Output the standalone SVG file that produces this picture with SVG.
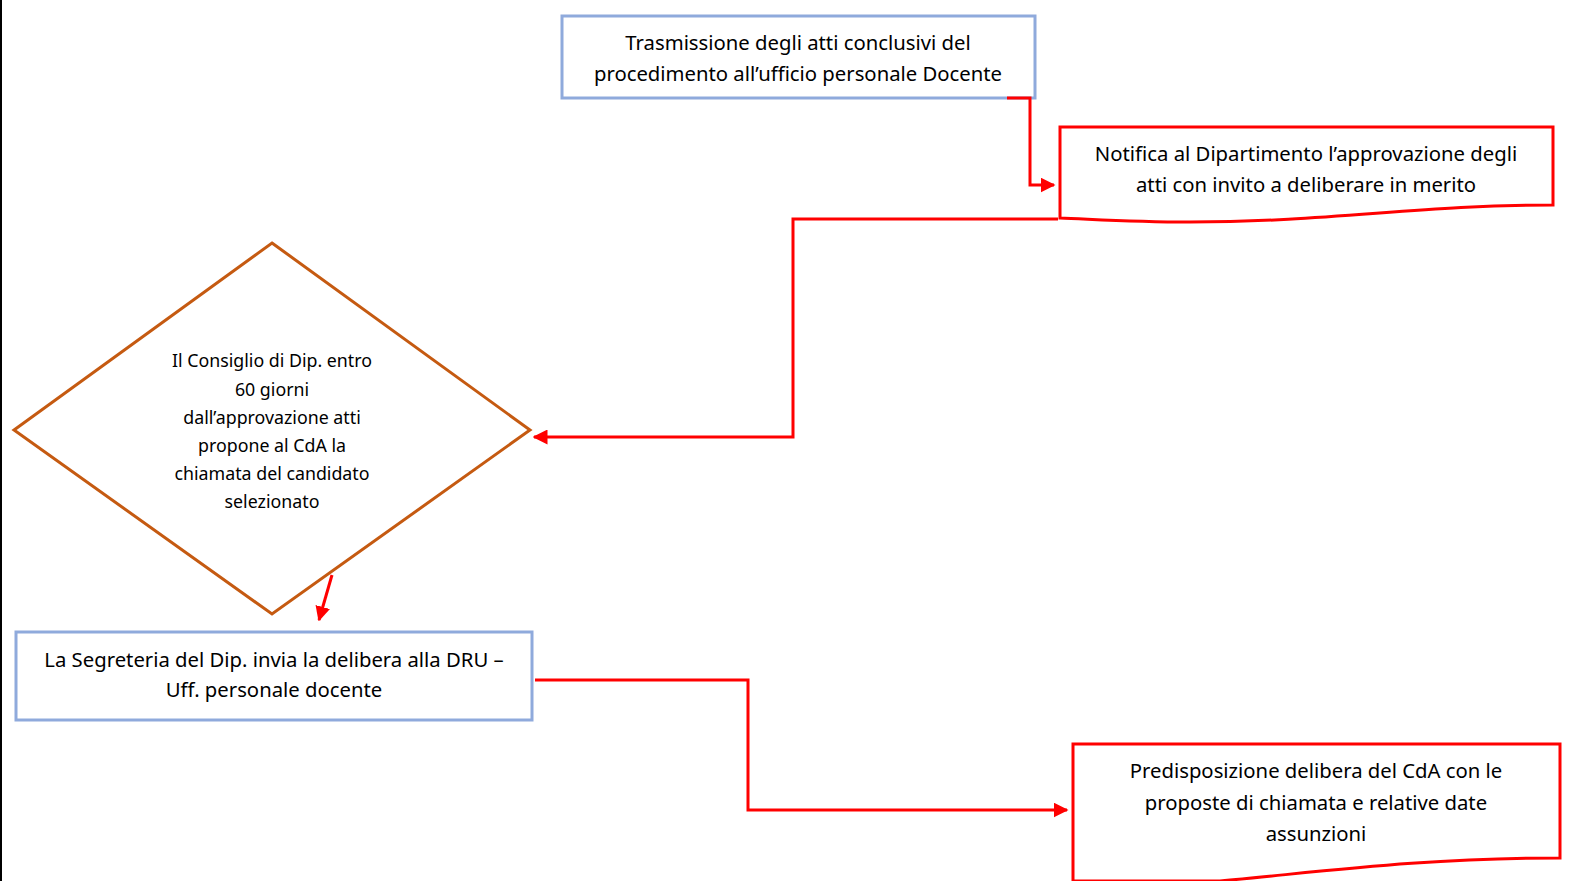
<svg xmlns="http://www.w3.org/2000/svg" width="1573" height="881" viewBox="0 0 1573 881">
<style>
.t{font-family:"Noto Sans","Liberation Sans",sans-serif;font-size:20.3px;fill:#000;text-anchor:middle}
.s{font-family:"Noto Sans","Liberation Sans",sans-serif;font-size:17.8px;fill:#000;text-anchor:middle}
.blue{fill:#fff;stroke:#8FAADC;stroke-width:3}
.red{fill:#fff;stroke:#FF0000;stroke-width:3}
.c{fill:none;stroke:#FF0000;stroke-width:3}
</style>
<defs>
<marker id="ah" markerWidth="5" markerHeight="5" refX="4.5" refY="2.5" orient="auto" markerUnits="strokeWidth">
<path d="M0,0 L5,2.5 L0,5 z" fill="#FF0000"/>
</marker>
</defs>
<rect width="1573" height="881" fill="#fff"/>
<line x1="1" y1="0" x2="1" y2="881" stroke="#000" stroke-width="2"/>
<g id="n1">
<rect class="blue" x="562" y="16" width="473" height="82"/>
<text class="t" x="798" y="50">Trasmissione degli atti conclusivi del</text>
<text class="t" x="798" y="81">procedimento all’ufficio personale Docente</text>
</g>
<g id="n2">
<path class="red" d="M1060,127 L1553,127 L1553,205 C1420,205 1330,222 1190,222 C1130,222 1090,219 1060,218 Z"/>
<text class="t" x="1306" y="161">Notifica al Dipartimento l’approvazione degli</text>
<text class="t" x="1306" y="192">atti con invito a deliberare in merito</text>
</g>
<g id="n3">
<polygon points="272,243 530,430 272,614 14,430" fill="#fff" stroke="#C55A11" stroke-width="3"/>
<text class="s" x="272" y="367">Il Consiglio di Dip. entro</text>
<text class="s" x="272" y="396">60 giorni</text>
<text class="s" x="272" y="424">dall’approvazione atti</text>
<text class="s" x="272" y="452">propone al CdA la</text>
<text class="s" x="272" y="480">chiamata del candidato</text>
<text class="s" x="272" y="508">selezionato</text>
</g>
<g id="n4">
<rect class="blue" x="16" y="632" width="516" height="88"/>
<text class="t" x="274" y="667">La Segreteria del Dip. invia la delibera alla DRU –</text>
<text class="t" x="274" y="697">Uff. personale docente</text>
</g>
<g id="n5">
<path class="red" d="M1073,744 L1560,744 L1560,858 C1420,858 1320,872 1220,881 L1073,881 Z"/>
<text class="t" x="1316" y="778">Predisposizione delibera del CdA con le</text>
<text class="t" x="1316" y="810">proposte di chiamata e relative date</text>
<text class="t" x="1316" y="841">assunzioni</text>
</g>
<g id="connectors">
<path class="c" d="M1007,98 L1030,98 L1030,185 L1054,185" marker-end="url(#ah)"/>
<path class="c" d="M1058,219 L793,219 L793,437 L534,437" marker-end="url(#ah)"/>
<path class="c" d="M332,575 L319,620" marker-end="url(#ah)"/>
<path class="c" d="M535,680 L748,680 L748,810 L1067,810" marker-end="url(#ah)"/>
</g>
</svg>
